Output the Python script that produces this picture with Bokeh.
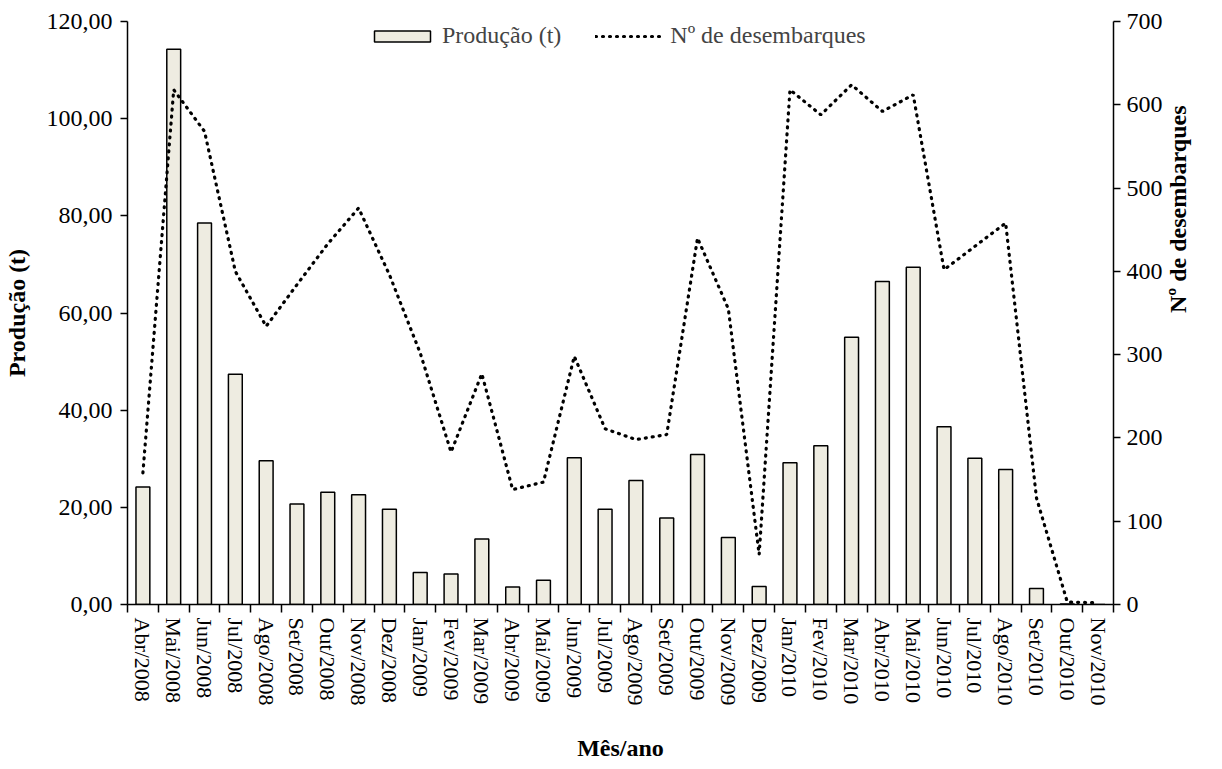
import math
from bokeh.plotting import figure
from bokeh.models import (Range1d, LinearAxis, FixedTicker, CustomJSTickFormatter,
                          Legend, LegendItem, ColumnDataSource)
from bokeh.embed import file_html
from bokeh.resources import INLINE

meses = ["Abr/2008", "Mai/2008", "Jun/2008", "Jul/2008", "Ago/2008", "Set/2008",
         "Out/2008", "Nov/2008", "Dez/2008", "Jan/2009", "Fev/2009", "Mar/2009",
         "Abr/2009", "Mai/2009", "Jun/2009", "Jul/2009", "Ago/2009", "Set/2009",
         "Out/2009", "Nov/2009", "Dez/2009", "Jan/2010", "Fev/2010", "Mar/2010",
         "Abr/2010", "Mai/2010", "Jun/2010", "Jul/2010", "Ago/2010", "Set/2010",
         "Out/2010", "Nov/2010"]

producao = [24.2, 114.3, 78.5, 47.4, 29.6, 20.7, 23.1, 22.6, 19.6, 6.6, 6.3, 13.5,
            3.6, 5.0, 30.2, 19.6, 25.5, 17.8, 30.9, 13.8, 3.7, 29.2, 32.7, 55.0,
            66.5, 69.4, 36.6, 30.1, 27.8, 3.3, 0.1, 0.0]

desembarques = [158, 618, 568, 400, 334, 384, 433, 476, 396, 302, 183, 277,
                138, 147, 298, 211, 198, 204, 440, 355, 60, 618, 588, 624,
                592, 612, 402, 430, 458, 128, 3, 2]

y_left_ticks = [0, 20, 40, 60, 80, 100, 120]
y_right_ticks = [0, 100, 200, 300, 400, 500, 600, 700]

FONT = "Liberation Serif, DejaVu Serif, serif"
FS = "24px"

n = len(meses)
x_centers = [i + 0.5 for i in range(n)]
source = ColumnDataSource(dict(x=x_centers, mes=meses, prod=producao, desemb=desembarques))

p = figure(width=1206, height=765, x_range=Range1d(0, n), y_range=Range1d(0, 120),
           output_backend="svg", toolbar_location=None,
           min_border_left=119, min_border_right=92, min_border_top=21,
           min_border_bottom=161)
p.extra_y_ranges = {"desemb": Range1d(0, 700)}
p.outline_line_color = None
p.xgrid.visible = False
p.ygrid.visible = False
p.background_fill_color = "white"
p.border_fill_color = "white"

bars = p.vbar(x="x", top="prod", width=0.45, source=source,
              fill_color="#EEECE1", line_color="black", line_width=1.5)
line = p.line(x="x", y="desemb", source=source, y_range_name="desemb",
              line_color="black", line_width=3.2, line_dash="1 6", line_cap="round")

# x axis
xa = p.xaxis[0]
xa.ticker = FixedTicker(ticks=x_centers, minor_ticks=list(range(n + 1)))
xa.formatter = CustomJSTickFormatter(args=dict(labels=meses),
                                     code="const l = labels[Math.floor(tick)]; return l ? l : '';")
xa.major_tick_line_color = None
xa.minor_tick_line_color = "black"
xa.minor_tick_line_width = 1.5
xa.minor_tick_out = 8
xa.minor_tick_in = 0
xa.major_label_orientation = "vertical"
xa.major_label_standoff = 5
xa.axis_label = "Mês/ano"
xa.axis_label_standoff = 26

# left axis
ya = p.yaxis[0]
ya.ticker = FixedTicker(ticks=y_left_ticks)
ya.formatter = CustomJSTickFormatter(code="return tick.toFixed(2).replace('.', ',');")
ya.axis_label = "Produção (t)"
ya.major_tick_out = 7
ya.major_tick_in = 0
ya.major_label_standoff = 8
ya.axis_label_standoff = 14

# right axis
ra = LinearAxis(y_range_name="desemb", ticker=FixedTicker(ticks=y_right_ticks),
                axis_label="Nº de desembarques")
ra.major_tick_out = 7
ra.major_tick_in = 0
ra.major_label_standoff = 6
ra.axis_label_standoff = 12
try:
    ra.axis_label_orientation = math.pi / 2
except Exception:
    pass
p.add_layout(ra, "right")

for ax in [xa, ya, ra]:
    ax.axis_line_color = "black"
    ax.axis_line_width = 1.5
    ax.major_tick_line_width = 1.5
    if ax is not xa:
        ax.minor_tick_line_color = None
    ax.major_label_text_font = FONT
    ax.major_label_text_font_size = FS
    ax.major_label_text_color = "black"
    ax.axis_label_text_font = FONT
    ax.axis_label_text_font_size = FS
    ax.axis_label_text_font_style = "bold"
    ax.axis_label_text_color = "black"
xa.major_label_text_font_size = "22px"

legend = Legend(items=[LegendItem(label="Produção (t)", renderers=[bars]),
                       LegendItem(label="Nº de desembarques", renderers=[line])],
                orientation="horizontal", location=(240, 555),
                border_line_color=None, background_fill_alpha=0,
                label_text_font=FONT, label_text_font_size=FS,
                glyph_width=70, glyph_height=14, spacing=34, label_standoff=5,
                padding=0, margin=0)
p.add_layout(legend)

open("out.html", "w").write(file_html(p, INLINE))
